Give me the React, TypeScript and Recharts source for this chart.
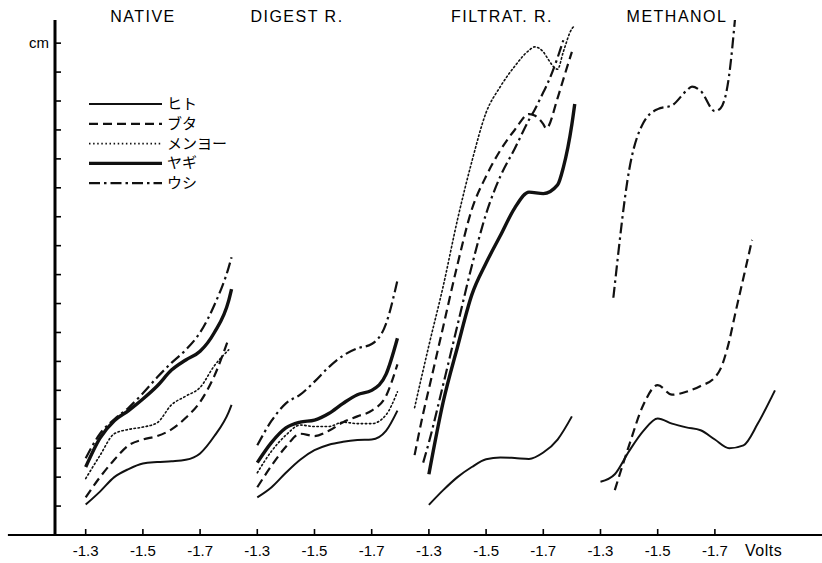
import React from "react";
import { LineChart, Line, XAxis, YAxis, ReferenceLine } from "recharts";

document.body.style.margin = "0";

const PANELS = ["NATIVE", "DIGEST R.", "FILTRAT. R.", "METHANOL"];
const SERIES_NAMES = ["ヒト", "ブタ", "メンヨー", "ヤギ", "ウシ"];
const VOLT_LABELS = ["-1.3", "-1.5", "-1.7"];
const Y_TICKS = [0, 1, 2, 3, 4, 5, 6, 7, 8, 9, 10, 11, 12, 13, 14, 15, 16, 17];

// NATIVE
const nativeVolts = [-1.3, -1.35, -1.4, -1.45, -1.5, -1.55, -1.6, -1.65, -1.7, -1.75, -1.8, -1.81];
const nativeHito = [1.05, 1.5, 2.0, 2.28, 2.47, 2.52, 2.55, 2.6, 2.82, 3.42, 4.25, 4.5];
const nativeButa = [1.3, 2.0, 2.6, 3.1, 3.3, 3.42, 3.65, 4.05, 4.6, 5.5, 6.8, null];
const nativeMenyo = [1.95, 2.75, 3.5, 3.65, 3.73, 3.88, 4.5, 4.8, 5.1, 5.85, 6.4, null];
const nativeYagi = [2.35, 3.35, 3.95, 4.3, 4.7, 5.15, 5.7, 6.05, 6.35, 7.0, 8.1, 8.5];
const nativeUshi = [2.65, 3.5, 4.0, 4.4, 4.9, 5.45, 5.95, 6.4, 7.0, 7.95, 9.25, 9.6];

// DIGEST R.
const digestVolts = [-1.3, -1.35, -1.4, -1.45, -1.5, -1.55, -1.6, -1.65, -1.7, -1.75, -1.79];
const digestHito = [1.3, 1.65, 2.15, 2.6, 2.93, 3.12, 3.22, 3.28, 3.3, 3.6, 4.3];
const digestButa = [1.65, 2.4, 3.05, 3.5, 3.42, 3.6, 3.9, 4.1, 4.3, 4.8, 5.9];
const digestMenyo = [2.15, 2.9, 3.45, 3.8, 3.75, 3.75, 3.9, 3.85, 3.85, 4.15, 4.95];
const digestYagi = [2.5, 3.2, 3.7, 3.9, 3.97, 4.2, 4.55, 4.85, 5.0, 5.55, 6.8];
const digestUshi = [3.1, 3.95, 4.55, 4.85, 5.3, 5.8, 6.2, 6.45, 6.6, 7.3, 8.8];

// FILTRAT. R.
const filtratVolts = [-1.25, -1.28, -1.3, -1.35, -1.4, -1.45, -1.5, -1.55, -1.6, -1.65, -1.67, -1.7, -1.71, -1.75, -1.77, -1.8, -1.81];
const filtratHito = [null, null, 1.04, 1.55, 2.0, 2.35, 2.62, 2.68, 2.66, 2.63, null, 2.85, null, 3.3, null, 4.1, null];
const filtratButa = [2.76, 4.2, 5.05, 7.2, 9.35, 11.25, 12.4, 13.3, 14.0, 14.55, 14.5, 14.2, 14.05, 15.1, 15.75, 16.7, null];
const filtratMenyo = [4.4, 5.7, 6.55, 8.6, 10.9, 12.9, 14.6, 15.5, 16.2, 16.75, 16.87, 16.7, 16.55, 16.1, 16.7, 17.5, 17.6];
const filtratYagi = [null, null, 2.1, 4.6, 6.5, 8.3, 9.4, 10.35, 11.3, 11.85, null, 11.8, null, 12.1, 12.7, 14.2, 14.9];
const filtratUshi = [null, 2.5, 3.2, 5.2, 7.25, 9.3, 11.1, 12.4, 13.35, 14.35, 14.7, 15.3, 15.5, 16.5, 17.1, null, null];

// METHANOL
const methVolts = [-1.3, -1.345, -1.35, -1.4, -1.45, -1.5, -1.55, -1.6, -1.62, -1.65, -1.7, -1.72, -1.75, -1.77, -1.8, -1.83, -1.85, -1.9, -1.91];
const methHito = [1.84, null, 2.1, 2.9, 3.6, 4.03, 3.85, 3.72, null, 3.62, 3.3, null, 3.0, null, 3.1, null, 3.85, 4.8, 5.0];
const methButa = [null, null, 1.55, 3.1, 4.5, 5.18, 4.85, 4.95, null, 5.15, 5.45, 5.75, 6.7, 7.6, 8.9, 10.2, null, null, null];
const methUshi = [null, 8.2, 8.65, 12.6, 14.25, 14.72, 14.85, 15.35, 15.5, 15.35, 14.65, 14.75, 15.9, 17.8, null, null, null, null, null];

const panelData = [
  { volts: nativeVolts, series: [nativeHito, nativeButa, nativeMenyo, nativeYagi, nativeUshi] },
  { volts: digestVolts, series: [digestHito, digestButa, digestMenyo, digestYagi, digestUshi] },
  { volts: filtratVolts, series: [filtratHito, filtratButa, filtratMenyo, filtratYagi, filtratUshi] },
  { volts: methVolts, series: [methHito, methButa, null, null, methUshi] },
];

const STYLES = [
  { dash: undefined, width: 2 },
  { dash: "9 5", width: 2.2 },
  { dash: "1.5 2.6", width: 1.6 },
  { dash: undefined, width: 3.4 },
  { dash: "11 4 2.5 4", width: 2.2 },
];

const W = 822;
const H = 563;
const AXIS_X = 55;
const AXIS_Y = 535;
const FONT = "'Liberation Sans', Arial, sans-serif";
const JP_FONT = "'Noto Sans CJK JP', sans-serif";

// each panel spans 6 units (0.6 V); x = panel*6 + (|V| - 1.3)*10
const toX = (panel: number, v: number) => panel * 6 + (-v - 1.3) * 10;

const XTick = (props: any) => {
  const { x, payload } = props;
  const label = VOLT_LABELS[Math.round(payload.value / 2) % 3];
  return (
    <g>
      <line x1={x} x2={x} y1={AXIS_Y} y2={AXIS_Y - 6} stroke="#000" strokeWidth={1.6} />
      <text x={x} y={AXIS_Y + 21} textAnchor="middle" fontSize={15} fontFamily={FONT} fill="#000">
        {label}
      </text>
    </g>
  );
};

const YTick = (props: any) => {
  const { y, payload } = props;
  return (
    <g>
      <line x1={AXIS_X} x2={AXIS_X + 6} y1={y} y2={y} stroke="#000" strokeWidth={1.6} />
      {payload.value === 17 && (
        <text x={AXIS_X - 6} y={y + 5} textAnchor="end" fontSize={15} fontFamily={FONT} fill="#000">
          cm
        </text>
      )}
    </g>
  );
};

const TITLE_POS = [143, 297, 502, 677];

export default function App() {
  const lines: React.ReactNode[] = [];
  panelData.forEach((panel, p) => {
    panel.series.forEach((vals, s) => {
      if (!vals) return;
      const pts = panel.volts
        .map((v, i) => ({ x: toX(p, v), y: vals[i] }))
        .filter((d) => d.y !== null && d.y !== undefined);
      const st = STYLES[s];
      lines.push(
        <Line
          key={`${p}-${s}`}
          data={pts}
          dataKey="y"
          type="monotone"
          stroke="#111"
          strokeWidth={st.width}
          strokeDasharray={st.dash}
          strokeLinecap={s === 2 ? "round" : "butt"}
          dot={false}
          isAnimationActive={false}
          name={SERIES_NAMES[s]}
        />
      );
    });
  });

  return (
    <div style={{ position: "relative", width: W, height: H, background: "#fff" }}>
      <LineChart width={W} height={H} margin={{ top: 20, right: 0, bottom: 0, left: 0 }}>
        <XAxis
          type="number"
          dataKey="x"
          domain={[-1.073, 25.745]}
          ticks={[0, 2, 4, 6, 8, 10, 12, 14, 16, 18, 20, 22]}
          interval={0}
          allowDataOverflow
          height={28}
          tickSize={0}
          tickMargin={0}
          tickLine={false}
          tick={XTick}
          axisLine={{ stroke: "#000", strokeWidth: 2 }}
        />
        <YAxis
          type="number"
          domain={[0, 17.8]}
          ticks={Y_TICKS}
          interval={0}
          allowDataOverflow
          width={AXIS_X}
          tickSize={0}
          tickMargin={0}
          tickLine={false}
          tick={YTick}
          axisLine={{ stroke: "#000", strokeWidth: 3 }}
        />
        <ReferenceLine
          segment={[{ x: -2.72, y: 0 }, { x: -1.073, y: 0 }]}
          ifOverflow="visible"
          stroke="#000"
          strokeWidth={2}
        />
        {lines}
      </LineChart>
      <svg width={W} height={H} style={{ position: "absolute", left: 0, top: 0, pointerEvents: "none" }}>
        {PANELS.map((t, i) => (
          <text key={t} x={TITLE_POS[i]} y={22} textAnchor="middle" fontSize={16} letterSpacing={1.5} fontFamily={FONT} fill="#000">
            {t}
          </text>
        ))}
        <text x={745} y={556} fontSize={16} fontFamily={FONT} letterSpacing={0.5} fill="#000">
          Volts
        </text>
        {SERIES_NAMES.map((n, i) => {
          const y = 104 + i * 19.8;
          const st = STYLES[i];
          return (
            <g key={n}>
              <line x1={89} x2={162} y1={y} y2={y} stroke="#111" strokeWidth={st.width} strokeDasharray={st.dash} />
              <text x={167} y={y + 5} fontSize={15} fontFamily={JP_FONT} fill="#000">
                {n}
              </text>
            </g>
          );
        })}
      </svg>
    </div>
  );
}
